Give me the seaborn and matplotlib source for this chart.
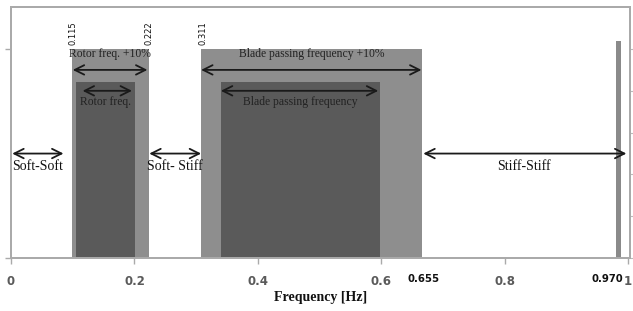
import seaborn as sns
import matplotlib.pyplot as plt

# frequency bands [Hz]: (start, end, height)
band_names = ["Rotor freq. +10%", "Blade passing frequency +10%", "Rotor freq.", "Blade passing frequency"]
band_start = [0.098, 0.307, 0.106, 0.340]
band_end = [0.224, 0.666, 0.201, 0.598]
band_height = [1.0, 1.0, 0.84, 0.84]
band_colors = ["#8e8e8e", "#8e8e8e", "#5a5a5a", "#5a5a5a"]

# natural frequency line
nat_freq = 0.984
nat_height = 1.04

# design regions (arrows at y=0.5)
region_names = ["Soft-Soft", "Soft- Stiff", "Stiff-Stiff"]
region_start = [0.0, 0.222, 0.666]
region_end = [0.085, 0.308, 0.997]

# value labels
top_values = ["0.115", "0.222", "0.311"]
top_pos = [0.100, 0.224, 0.311]
bottom_values = ["0.655", "0.970"]
bottom_pos = [0.668, 0.966]

sns.set_style("white")
plt.rcParams["font.family"] = ["Liberation Serif", "DejaVu Serif"]

fig = plt.figure(figsize=(6.33, 3.11), dpi=100)
ax = fig.add_axes([0.0174, 0.170, 0.978, 0.807])

for s, e, h, c in zip(band_start, band_end, band_height, band_colors):
    ax.bar(s, h, width=e - s, align="edge", color=c, linewidth=0)
ax.bar(nat_freq, nat_height, width=0.007, align="center", color="#8a8a8a", linewidth=0)

arrow = dict(arrowstyle="<->", lw=1.3, color="#1a1a1a", mutation_scale=17, shrinkA=0, shrinkB=0)

# band arrows and labels
arrow_y = [0.9, 0.9, 0.8, 0.8]
text_y = [0.975, 0.975, 0.745, 0.745]
arrow_pad = [(0.002, -0.003), (0.001, -0.001), (0.01, -0.005), (0.0, -0.003)]
for name, s, e, ay, ty, p in zip(band_names, band_start, band_end, arrow_y, text_y, arrow_pad):
    ax.annotate("", xy=(s + p[0], ay), xytext=(e + p[1], ay), arrowprops=arrow)
    ax.text((s + e) / 2, ty, name, ha="center", va="center", fontsize=8.4, color="#222222")

for name, s, e in zip(region_names, region_start, region_end):
    ax.annotate("", xy=(s + 0.002, 0.5), xytext=(e, 0.5), arrowprops=arrow)
    ax.text((s + e) / 2, 0.44, name, ha="center", va="center", fontsize=10, color="#111111")

for v, p in zip(top_values, top_pos):
    ax.text(p, 1.02, v, rotation=90, ha="center", va="bottom", fontsize=6,
            family=["DejaVu Sans"], color="#111111")
for v, p in zip(bottom_values, bottom_pos):
    ax.text(p, -0.1, v, ha="center", va="center", fontsize=7.3, fontweight="bold",
            family=["DejaVu Sans"], color="#111111", clip_on=False)

ax.set_xlim(0, 1.003)
ax.set_ylim(0, 1.2)
ax.set_xticks([0, 0.2, 0.4, 0.6, 0.8, 1.0])
ax.set_xticklabels(["0", "0.2", "0.4", "0.6", "0.8", "1"])
ax.set_yticks([0, 1.0])
ax.set_yticklabels([])
for lab in ax.get_xticklabels():
    lab.set_family(["DejaVu Sans"])
    lab.set_fontsize(8.5)
    lab.set_color("#5a5a5a")
    lab.set_fontweight("bold")
ax.tick_params(axis="both", direction="out", length=4, color="#aaaaaa", width=1, pad=8, left=True, bottom=True)

# right axis ticks
ax2 = ax.twinx()
ax2.set_ylim(0, 1.2)
ax2.set_yticks([0, 0.2, 0.4, 0.6, 0.8, 1.0])
ax2.set_yticklabels([])
ax2.tick_params(axis="y", direction="out", length=3, color="#bbbbbb", right=True)

for a in [ax, ax2]:
    for sp in a.spines.values():
        sp.set_color("#aaaaaa")
        sp.set_linewidth(1.3)

ax.set_xlabel("Frequency [Hz]", fontsize=10, fontweight="bold", labelpad=2, color="#111111")

fig.savefig("out.png", dpi=100)
